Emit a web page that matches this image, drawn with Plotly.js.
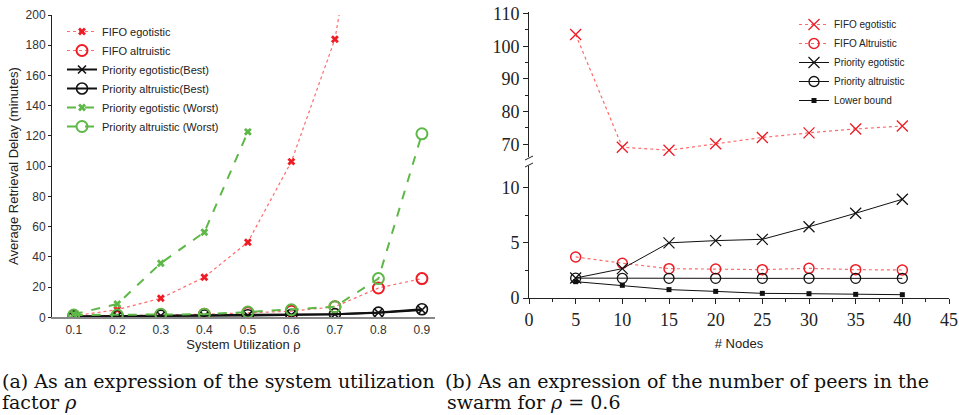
<!DOCTYPE html>
<html>
<head>
<meta charset="utf-8">
<script src="https://cdn.plot.ly/plotly-3.0.1.min.js"></script>
<style>html,body{margin:0;padding:0;background:#fff;}#chart{width:959px;height:415px;}</style>
</head>
<body>
<div id="chart"></div>
<script>
// ---- Left chart data (a) ----
const rho = [0.1, 0.2, 0.3, 0.4, 0.5, 0.6, 0.7, 0.8, 0.9];
const rhoWorstEgo = [0.1, 0.2, 0.3, 0.4, 0.5];
const fifoEgo = [1, 5, 12.6, 26.5, 49.7, 103, 184, 350];
const fifoAlt = [1, 1, 1.5, 2, 3, 4, 7, 19.4, 25.6];
const prioEgoBest = [0.5, 0.8, 1, 1, 1.2, 1.5, 2, 3, 4.8];
const prioAltBest = [0.6, 0.9, 1.1, 1.2, 1.4, 1.6, 2.1, 3.1, 5.3];
const prioEgoWorst = [2, 8.8, 35.8, 56.3, 122.7];
const prioAltWorst = [1.5, 1.5, 2, 2, 3.5, 5, 7, 25.6, 121.4];
const leftNames = ['FIFO egotistic', 'FIFO altruistic', 'Priority egotistic(Best)',
  'Priority altruistic(Best)', 'Priority egotistic (Worst)', 'Priority altruistic (Worst)'];

// ---- Right chart data (b) ----
const nodes = [5, 10, 15, 20, 25, 30, 35, 40];
const fifoEgoN = [103.6, 69.1, 68.2, 70.2, 72.1, 73.5, 74.7, 75.6];
const fifoAltN = [3.72, 3.15, 2.66, 2.63, 2.57, 2.69, 2.57, 2.54];
const prioEgoN = [1.81, 2.66, 5.0, 5.2, 5.32, 6.46, 7.68, 8.95];
const prioAltN = [1.8, 1.78, 1.78, 1.78, 1.78, 1.78, 1.78, 1.78];
const lowerBoundN = [1.48, 1.15, 0.76, 0.6, 0.42, 0.39, 0.33, 0.30];
const rightNames = ['FIFO egotistic', 'FIFO Altruistic', 'Priority egotistic', 'Priority altruistic', 'Lower bound'];

const RED = '#ee1c24', REDL = '#ff6a6a', GREEN = '#5db847', BLK = '#111111';
const W = 959, H = 415;
const px = v => v / W, py = v => 1 - v / H;

const traces = [
  {x: rho.slice(0, fifoEgo.length), y: fifoEgo, name: leftNames[0], mode: 'lines+markers',
   line: {color: REDL, dash: 'dot', width: 1.2}, marker: {symbol: 'x', size: 7, color: RED}, xaxis: 'x', yaxis: 'y'},
  {x: rho, y: fifoAlt, name: leftNames[1], mode: 'lines+markers',
   line: {color: REDL, dash: 'dot', width: 1.2}, marker: {symbol: 'circle-open', size: 11, color: RED, line: {width: 2}}, xaxis: 'x', yaxis: 'y'},
  {x: rho, y: prioEgoBest, name: leftNames[2], mode: 'lines+markers',
   line: {color: BLK, width: 2}, marker: {symbol: 'x-thin-open', size: 8, color: BLK, line: {width: 1.6}}, xaxis: 'x', yaxis: 'y'},
  {x: rho, y: prioAltBest, name: leftNames[3], mode: 'lines+markers',
   line: {color: BLK, width: 2}, marker: {symbol: 'circle-open', size: 11, color: BLK, line: {width: 1.6}}, xaxis: 'x', yaxis: 'y'},
  {x: rhoWorstEgo, y: prioEgoWorst, name: leftNames[4], mode: 'lines+markers',
   line: {color: GREEN, dash: 'dash', width: 2}, marker: {symbol: 'x', size: 7, color: GREEN}, xaxis: 'x', yaxis: 'y'},
  {x: rho, y: prioAltWorst, name: leftNames[5], mode: 'lines+markers',
   line: {color: GREEN, dash: 'dash', width: 2}, marker: {symbol: 'circle-open', size: 11, color: GREEN, line: {width: 2}}, xaxis: 'x', yaxis: 'y'},

  {x: nodes, y: fifoEgoN, name: rightNames[0], mode: 'lines+markers', legend: 'legend2',
   line: {color: REDL, dash: 'dot', width: 1.2}, marker: {symbol: 'x-thin-open', size: 11, color: RED, line: {width: 1.3}}, xaxis: 'x2', yaxis: 'y3'},
  {x: nodes, y: fifoAltN, name: rightNames[1], mode: 'lines+markers', legend: 'legend2',
   line: {color: REDL, dash: 'dot', width: 1.2}, marker: {symbol: 'circle-open', size: 10, color: RED, line: {width: 1.5}}, xaxis: 'x2', yaxis: 'y2'},
  {x: nodes, y: prioEgoN, name: rightNames[2], mode: 'lines+markers', legend: 'legend2',
   line: {color: BLK, width: 1}, marker: {symbol: 'x-thin-open', size: 11, color: BLK, line: {width: 1.2}}, xaxis: 'x2', yaxis: 'y2'},
  {x: nodes, y: prioAltN, name: rightNames[3], mode: 'lines+markers', legend: 'legend2',
   line: {color: BLK, width: 1}, marker: {symbol: 'circle-open', size: 10, color: BLK, line: {width: 1.3}}, xaxis: 'x2', yaxis: 'y2'},
  {x: nodes, y: lowerBoundN, name: rightNames[4], mode: 'lines+markers', legend: 'legend2',
   line: {color: BLK, width: 1}, marker: {symbol: 'square', size: 5, color: BLK}, xaxis: 'x2', yaxis: 'y2'}
];

const sans = 'Liberation Sans, Arial, sans-serif';
const serif = 'Liberation Serif, Times New Roman, serif';
const capFont = {family: 'DejaVu Serif, serif', size: 19, color: '#111'};

const layout = {
  width: W, height: H,
  margin: {l: 0, r: 0, t: 0, b: 0},
  paper_bgcolor: '#fff', plot_bgcolor: '#fff',
  showlegend: true,
  xaxis: {
    domain: [px(52), px(435)], range: [0.05, 0.93], anchor: 'y',
    tickvals: rho, ticktext: rho.map(v => v.toFixed(1)),
    showgrid: false, zeroline: false, showline: true, linecolor: '#888', linewidth: 2,
    ticks: '', tickfont: {family: sans, size: 12, color: '#333'},
    title: {text: 'System Utilization ρ', font: {family: sans, size: 13, color: '#222'}, standoff: 1}
  },
  yaxis: {
    domain: [py(317.3), py(15)], range: [0, 200], anchor: 'x',
    dtick: 20, showgrid: false, zeroline: false, showline: true, linecolor: '#222', linewidth: 1,
    ticks: 'outside', ticklen: 3, tickcolor: '#222', tickfont: {family: sans, size: 12, color: '#333'},
    title: {text: 'Average Retrieval Delay (minutes)', font: {family: sans, size: 13, color: '#222'}, standoff: 4}
  },
  xaxis2: {
    domain: [px(529), px(949)], range: [0, 45], anchor: 'y2',
    dtick: 5, showgrid: false, zeroline: false, showline: true, linecolor: '#222', linewidth: 1,
    ticks: 'outside', ticklen: 5, tickcolor: '#222', tickfont: {family: serif, size: 18, color: '#222'},
    minor: {dtick: 2.5, ticks: 'outside', ticklen: 3, tickcolor: '#222'},
    title: {text: '# Nodes', font: {family: sans, size: 13, color: '#222'}, standoff: 10}
  },
  yaxis2: {
    domain: [py(298), py(165.6)], range: [0, 12], anchor: 'x2',
    tickvals: [0, 5, 10], showgrid: false, zeroline: false, showline: true, linecolor: '#222', linewidth: 1,
    ticks: 'outside', ticklen: 5, tickcolor: '#222', tickfont: {family: serif, size: 18, color: '#222'},
    minor: {tickvals: [2.5, 7.5], ticks: 'outside', ticklen: 3, tickcolor: '#222'}
  },
  yaxis3: {
    domain: [py(157.4), py(11.9)], range: [66, 110.5], anchor: 'x2',
    tickvals: [70, 80, 90, 100, 110], showgrid: false, zeroline: false, showline: true, linecolor: '#222', linewidth: 1,
    ticks: 'outside', ticklen: 5, tickcolor: '#222', tickfont: {family: serif, size: 18, color: '#222'},
    minor: {tickvals: [75, 85, 95, 105], ticks: 'outside', ticklen: 3, tickcolor: '#222'}
  },
  legend: {
    x: px(62), y: py(17), xanchor: 'left', yanchor: 'top',
    bgcolor: 'rgba(0,0,0,0)', font: {family: sans, size: 11, color: '#222'},
    tracegroupgap: 0, itemwidth: 30
  },
  legend2: {
    x: px(794), y: py(10), xanchor: 'left', yanchor: 'top',
    bgcolor: 'rgba(0,0,0,0)', font: {family: sans, size: 10, color: '#222'},
    tracegroupgap: 0, itemwidth: 30
  },
  shapes: [
    {type: 'line', xref: 'paper', yref: 'paper', x0: px(525), y0: py(160), x1: px(533), y1: py(156), line: {color: '#222', width: 1}},
    {type: 'line', xref: 'paper', yref: 'paper', x0: px(525), y0: py(167), x1: px(533), y1: py(163), line: {color: '#222', width: 1}}
  ],
  annotations: [
    {xref: 'paper', yref: 'paper', x: 0, y: py(381), xanchor: 'left', yanchor: 'middle', showarrow: false,
     text: '(a) As an expression of the system utilization', font: capFont},
    {xref: 'paper', yref: 'paper', x: 0, y: py(402), xanchor: 'left', yanchor: 'middle', showarrow: false,
     text: 'factor <i>ρ</i>', font: capFont},
    {xref: 'paper', yref: 'paper', x: px(443), y: py(381), xanchor: 'left', yanchor: 'middle', showarrow: false,
     text: '(b) As an expression of the number of peers in the', font: capFont},
    {xref: 'paper', yref: 'paper', x: px(445), y: py(402), xanchor: 'left', yanchor: 'middle', showarrow: false,
     text: 'swarm for <i>ρ</i> = 0.6', font: capFont}
  ]
};

Plotly.newPlot('chart', traces, layout, {displayModeBar: false, staticPlot: true});
</script>
</body>
</html>
